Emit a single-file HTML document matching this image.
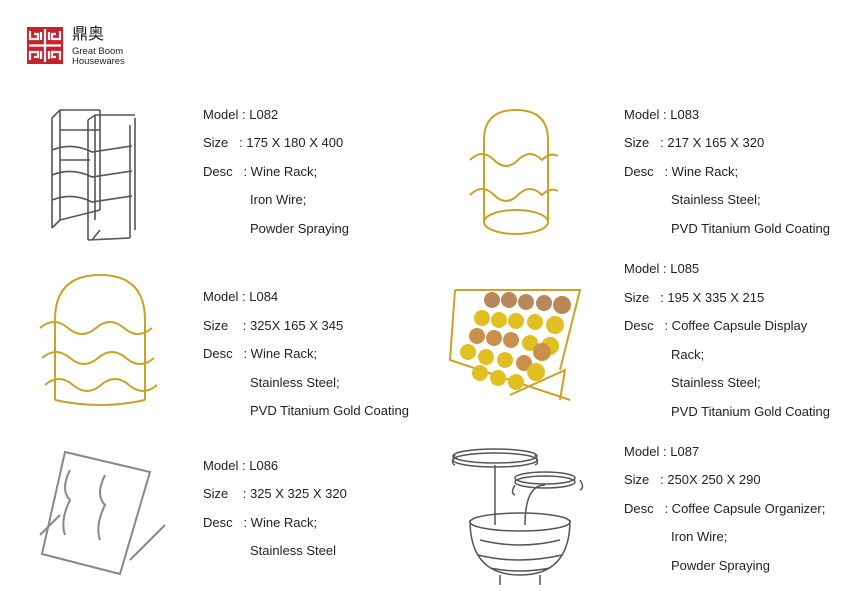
<!DOCTYPE html>
<html><head><meta charset="utf-8"><style>
body{margin:0;width:842px;height:593px;background:#fff;position:relative;overflow:hidden;font-family:"Liberation Sans","Noto Sans CJK SC",sans-serif;color:#222}
.t{position:absolute;font-size:13px;line-height:16px;white-space:nowrap}
svg{position:absolute;left:0;top:0}
</style></head><body>
<svg width="842" height="593" viewBox="0 0 842 593">
<!-- logo -->
<rect x="27" y="27" width="36" height="37" fill="#c8232c"/>
<g stroke="#fff" stroke-width="2.2" fill="none">
<path d="M30 31v8h8v-5h-4M60 31v8h-8v-5h4M30 60v-8h8v5h-4M60 60v-8h-8v5h4"/>
<path d="M29 45.5h32M45 29v33M41 32v8M49 32v8M41 51v8M49 51v8"/>
</g>
<!-- L082 iron wine rack -->
<g stroke="#555" stroke-width="1.6" fill="none">
<path d="M52 118v110M60 110v110M100 110v100M95 115v105M88 120v120M135 118v112M130 125v113M92 240l8-10"/>
<path d="M52 118l8-8h40M88 120l7-5h40M52 228l8-8M88 240l42-2M60 220l40-10"/>
<path d="M52 150q20 -8 40 2l40 -6M52 175q20 -8 40 2l40 -6M52 200q20 -8 40 2l40 -6M60 130l40 0M60 160l30 0"/>
</g>
<!-- L083 gold -->
<g stroke="#c9a227" stroke-width="2" fill="none">
<path d="M484 220V140q0-30 32-30q32 0 32 30V220"/>
<path d="M470 160q12-12 24 0q12 12 24 0q12-12 24 0q8-8 16-4M470 195q12-12 24 0q12 12 24 0q12-12 24 0q8-8 16-4"/>
<ellipse cx="516" cy="222" rx="32" ry="12"/>
</g>
<!-- L084 gold -->
<g stroke="#c9a227" stroke-width="2" fill="none">
<path d="M55 400V320q0-45 45-45q45 0 45 45V400"/>
<path d="M40 328q14-12 28 0q14 12 28 0q14-12 28 0q14 12 28 0M42 358q14-12 28 0q14 12 28 0q14-12 28 0q14 12 28 0M45 385q14-12 28 0q14 12 28 0q14-12 28 0q14 12 28 0"/>
<path d="M55 400q45 10 90 0"/>
</g>
<!-- L085 capsule -->
<g stroke="#c9a227" stroke-width="2" fill="none">
<path d="M455 290l125 0 -20 80M455 290l-5 70 120 40M510 395l55-25-5 30"/>
</g>
<g>
<circle cx="492" cy="300" r="8" fill="#b8885a"/><circle cx="509" cy="300" r="8" fill="#b8885a"/><circle cx="526" cy="302" r="8" fill="#b8885a"/><circle cx="544" cy="303" r="8" fill="#b8885a"/><circle cx="562" cy="305" r="9" fill="#b8885a"/>
<circle cx="482" cy="318" r="8" fill="#e0c020"/><circle cx="499" cy="320" r="8" fill="#e0c020"/><circle cx="516" cy="321" r="8" fill="#e0c020"/><circle cx="535" cy="322" r="8" fill="#e0c020"/><circle cx="555" cy="325" r="9" fill="#e0c020"/>
<circle cx="477" cy="336" r="8" fill="#c8904a"/><circle cx="494" cy="338" r="8" fill="#c8904a"/><circle cx="511" cy="340" r="8" fill="#c8904a"/><circle cx="530" cy="343" r="8" fill="#e0c020"/><circle cx="550" cy="346" r="9" fill="#e0c020"/>
<circle cx="468" cy="352" r="8" fill="#e0c020"/><circle cx="486" cy="357" r="8" fill="#e0c020"/><circle cx="505" cy="360" r="8" fill="#e0c020"/><circle cx="524" cy="363" r="8" fill="#c8904a"/><circle cx="542" cy="352" r="9" fill="#c8904a"/>
<circle cx="480" cy="373" r="8" fill="#e0c020"/><circle cx="498" cy="378" r="8" fill="#e0c020"/><circle cx="516" cy="382" r="8" fill="#e0c020"/><circle cx="536" cy="372" r="9" fill="#e0c020"/>
</g>
<!-- L086 stainless -->
<g stroke="#888" stroke-width="2" fill="none">
<path d="M65 452l85 20-30 102-78-20z"/>
<path d="M70 470q-10 20 0 30q-10 20-5 35M105 475q-10 20 0 30q-10 20-5 35M130 560l35-35M40 535l20-20"/>
</g>
<!-- L087 -->
<g stroke="#555" stroke-width="1.5" fill="none">
<ellipse cx="495" cy="460" rx="42" ry="7"/><ellipse cx="495" cy="456" rx="42" ry="7"/>
<ellipse cx="545" cy="482" rx="30" ry="6"/><ellipse cx="545" cy="478" rx="30" ry="6"/>
<path d="M495 465v60M545 485q-20 0-20 40"/>
<path d="M470 520q0 55 50 55q50 0 50-55"/>
<ellipse cx="520" cy="522" rx="50" ry="9"/>
<path d="M480 540q40 10 80 0M478 555q40 10 84 0M490 568q30 6 60 0M500 575v10M540 575v10"/>
<path d="M455 455q-5 8 0 10M535 455q5 8 0 10M515 485q-5 8 0 10M580 480q5 8 0 10"/>
</g>
</svg>
<div class="t" style="left:72px;top:25px;font-size:16px;line-height:20px">鼎奥</div>
<div class="t" style="left:72px;top:46px;font-size:9.5px;line-height:11px">Great Boom</div>
<div class="t" style="left:72px;top:56px;font-size:9.5px;line-height:11px">Housewares</div>

<div class="t" style="left:203px;top:107px">Model : L082</div>
<div class="t" style="left:203px;top:135px">Size&nbsp;&nbsp;&nbsp;: 175 X 180 X 400</div>
<div class="t" style="left:203px;top:164px">Desc&nbsp;&nbsp;&nbsp;: Wine Rack;</div>
<div class="t" style="left:250px;top:192px">Iron Wire;</div>
<div class="t" style="left:250px;top:221px">Powder Spraying</div>

<div class="t" style="left:203px;top:289px">Model : L084</div>
<div class="t" style="left:203px;top:318px">Size&nbsp;&nbsp;&nbsp;&nbsp;: 325X 165 X 345</div>
<div class="t" style="left:203px;top:346px">Desc&nbsp;&nbsp;&nbsp;: Wine Rack;</div>
<div class="t" style="left:250px;top:375px">Stainless Steel;</div>
<div class="t" style="left:250px;top:403px">PVD Titanium Gold Coating</div>

<div class="t" style="left:203px;top:458px">Model : L086</div>
<div class="t" style="left:203px;top:486px">Size&nbsp;&nbsp;&nbsp;&nbsp;: 325 X 325 X 320</div>
<div class="t" style="left:203px;top:515px">Desc&nbsp;&nbsp;&nbsp;: Wine Rack;</div>
<div class="t" style="left:250px;top:543px">Stainless Steel</div>

<div class="t" style="left:624px;top:107px">Model : L083</div>
<div class="t" style="left:624px;top:135px">Size&nbsp;&nbsp;&nbsp;: 217 X 165 X 320</div>
<div class="t" style="left:624px;top:164px">Desc&nbsp;&nbsp;&nbsp;: Wine Rack;</div>
<div class="t" style="left:671px;top:192px">Stainless Steel;</div>
<div class="t" style="left:671px;top:221px">PVD Titanium Gold Coating</div>

<div class="t" style="left:624px;top:261px">Model : L085</div>
<div class="t" style="left:624px;top:290px">Size&nbsp;&nbsp;&nbsp;: 195 X 335 X 215</div>
<div class="t" style="left:624px;top:318px">Desc&nbsp;&nbsp;&nbsp;: Coffee Capsule Display</div>
<div class="t" style="left:671px;top:347px">Rack;</div>
<div class="t" style="left:671px;top:375px">Stainless Steel;</div>
<div class="t" style="left:671px;top:404px">PVD Titanium Gold Coating</div>

<div class="t" style="left:624px;top:444px">Model : L087</div>
<div class="t" style="left:624px;top:472px">Size&nbsp;&nbsp;&nbsp;: 250X 250 X 290</div>
<div class="t" style="left:624px;top:501px">Desc&nbsp;&nbsp;&nbsp;: Coffee Capsule Organizer;</div>
<div class="t" style="left:671px;top:529px">Iron Wire;</div>
<div class="t" style="left:671px;top:558px">Powder Spraying</div>
</body></html>
